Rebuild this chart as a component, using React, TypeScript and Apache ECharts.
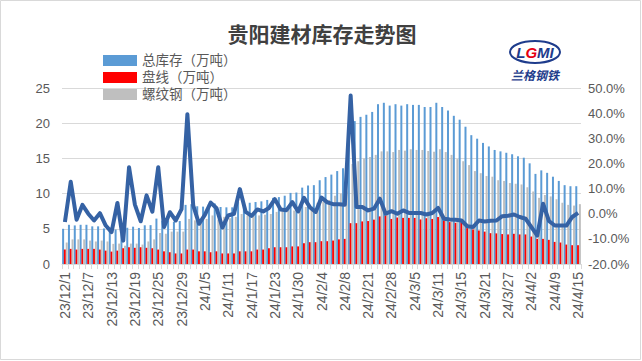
import React, { useEffect, useRef } from "react";
import * as echarts from "echarts";

const dates = [
  "23/12/1", "23/12/4", "23/12/5", "23/12/6", "23/12/7", "23/12/8", "23/12/11", "23/12/12", "23/12/13", "23/12/14",
  "23/12/15", "23/12/18", "23/12/19", "23/12/20", "23/12/21", "23/12/22", "23/12/25", "23/12/26", "23/12/27", "23/12/28",
  "23/12/29", "24/1/2", "24/1/3", "24/1/4", "24/1/5", "24/1/8", "24/1/9", "24/1/10", "24/1/11", "24/1/12",
  "24/1/15", "24/1/16", "24/1/17", "24/1/18", "24/1/19", "24/1/22", "24/1/23", "24/1/25", "24/1/26", "24/1/29",
  "24/1/30", "24/1/31", "24/2/1", "24/2/2", "24/2/4", "24/2/5", "24/2/6", "24/2/7", "24/2/8", "24/2/18",
  "24/2/19", "24/2/20", "24/2/21", "24/2/22", "24/2/23", "24/2/26", "24/2/28", "24/2/29", "24/3/1", "24/3/4",
  "24/3/5", "24/3/6", "24/3/7", "24/3/8", "24/3/11", "24/3/12", "24/3/13", "24/3/14", "24/3/15", "24/3/18",
  "24/3/19", "24/3/20", "24/3/21", "24/3/22", "24/3/25", "24/3/26", "24/3/27", "24/3/28", "24/3/29", "24/4/1",
  "24/4/2", "24/4/3", "24/4/7", "24/4/8", "24/4/9", "24/4/10", "24/4/11", "24/4/12", "24/4/15",
];

// 总库存（万吨）
const totalStock = [
  5.0, 5.57, 5.48, 5.57, 5.57, 5.35, 5.35, 5.05, 4.7, 4.9,
  4.35, 5.14, 5.3, 5.12, 5.5, 5.52, 6.45, 6.15, 6.2, 6.0,
  6.1, 8.4, 8.5, 8.2, 8.15, 8.5, 8.6, 8.1, 8.05, 8.05,
  8.8, 8.8, 8.7, 8.8, 8.9, 9.1, 9.4, 9.5, 9.7, 10.1,
  10.15, 10.85, 11.15, 11.2, 11.9, 12.35, 12.7, 13.2, 13.6, 20.0,
  20.3, 20.9, 21.2, 21.6, 22.7, 22.9, 22.5, 22.7, 22.5, 22.7,
  22.6, 22.6, 22.3, 22.3, 22.9, 22.3, 21.8, 21.05, 20.5, 19.5,
  18.3, 17.8, 17.2, 16.7, 16.2, 16.0, 15.8, 15.6, 15.3, 15.1,
  14.3, 12.8, 13.3, 12.95, 12.4, 11.8, 11.2, 11.05, 11.05,
];

// 盘线（万吨）
const wireRod = [
  2.05, 2.15, 2.05, 2.15, 2.15, 2.15, 2.05, 1.9, 1.76, 1.9,
  2.24, 2.38, 2.3, 2.38, 2.3, 2.24, 2.05, 1.8, 1.67, 1.5,
  1.5, 2.05, 2.05, 1.8, 1.8, 1.67, 1.8, 1.5, 1.5, 1.5,
  1.8, 1.8, 1.8, 2.05, 2.05, 2.24, 2.38, 2.38, 2.38, 2.5,
  2.5, 2.95, 3.1, 3.1, 3.24, 3.24, 3.33, 3.5, 3.57, 5.8,
  5.8, 6.05, 6.1, 6.3, 6.76, 6.9, 6.4, 6.6, 6.55, 6.55,
  6.55, 6.33, 6.5, 6.4, 6.67, 6.2, 5.95, 5.86, 5.95, 5.1,
  4.9, 4.76, 4.6, 4.38, 4.35, 4.25, 4.2, 4.29, 4.2, 4.2,
  3.9, 3.57, 3.57, 3.43, 3.14, 3.05, 2.76, 2.67, 2.67,
];

// 螺纹钢（万吨）
const rebar = [
  3.05, 3.5, 3.5, 3.5, 3.33, 3.2, 3.33, 3.2, 2.86, 2.9,
  2.6, 2.9, 2.9, 2.76, 3.2, 3.5, 4.4, 4.3, 4.6, 4.6,
  4.6, 6.4, 6.2, 5.95, 6.4, 6.9, 6.3, 6.7, 6.5, 6.7,
  7.1, 6.9, 6.9, 6.9, 7.0, 7.1, 7.4, 7.5, 7.6, 7.6,
  7.9, 8.1, 8.2, 8.7, 8.8, 9.1, 9.7, 10.0, 10.3, 14.2,
  14.6, 15.0, 15.2, 15.5, 16.0, 16.0, 15.9, 16.2, 16.1, 16.3,
  16.2, 16.2, 16.05, 15.95, 16.3, 15.9, 15.5, 14.9, 14.6, 14.05,
  13.2, 12.9, 12.5, 12.4, 11.9, 11.8, 11.5, 11.4, 11.3, 10.9,
  10.3, 9.4, 9.8, 9.6, 9.2, 8.7, 8.4, 8.3, 8.5,
];

// 总库存环比（%）
const changePct = [
  -3.3, 12.7, -2.4, 3.5, 0, -2.7, 0.2, -4.7, -7.3, 4.3,
  -10.7, 18.5, 3.6, -3.0, 7.3, 0.8, 18.5, -5.3, 0.6, -2.7,
  1.8, 39.6, 3.3, -4.0, -0.5, 4.4, 2.2, -5.5, -0.7, 0,
  9.8, 0.7, -0.9, 1.7, 0.9, 2.3, 5.8, 1.7, 1.4, 4.6,
  0.9, 6.3, 2.6, 0.7, 6.4, 4.5, 3.8, 3.8, 3.6, 47.0,
  2.7, 2.7, 1.3, 2.0, 6.0, 0, 1.0, 0, 1.3, 0.3,
  0.3, 0.3, -0.3, 0.3, 2.3, -2.0, -2.3, -2.4, -2.7, -5.0,
  -5.3, -2.7, -3.1, -2.8, -2.7, -1.0, -0.8, -0.3, -1.3, -2.0,
  -5.3, -8.7, 4.0, -2.9, -4.7, -4.7, -4.7, -1.3, 0.3,
];

const leftTicks = { min: 0, max: 25, interval: 5 };
const rightTicks = { min: -20, max: 50, interval: 10 };

const CJK = '"Noto Sans CJK SC", sans-serif';
const LEGEND_FONT = '"Liberation Sans", "Noto Sans CJK SC", sans-serif';
const LATIN = '"Liberation Sans", Arial, sans-serif';

export default function App() {
  const ref = useRef<HTMLDivElement>(null);
  useEffect(() => {
    if (!ref.current) return;
    const chart = echarts.init(ref.current, undefined, { renderer: "svg" });
    chart.setOption({
      animation: false,
      backgroundColor: "#ffffff",
      legend: {
        orient: "vertical",
        left: 103,
        top: 52,
        padding: 0,
        itemWidth: 34,
        itemHeight: 11,
        itemGap: 0,
        icon: "rect",
        data: ["总库存（万吨）", "盘线（万吨）", "螺纹钢（万吨）"],
        textStyle: { fontSize: 13.5, lineHeight: 17, color: "#595959", fontFamily: LEGEND_FONT },
      },
      grid: { left: 62, right: 61, top: 88, bottom: 97, containLabel: false },
      xAxis: {
        type: "category",
        data: dates,
        boundaryGap: true,
        axisLine: { show: true, lineStyle: { color: "#d9d9d9", width: 1 } },
        axisTick: { show: true, interval: 0, length: 5, lineStyle: { color: "#d9d9d9" } },
        axisLabel: {
          interval: 3,
          rotate: 90,
          margin: 8,
          fontSize: 14,
          color: "#595959",
          fontFamily: LATIN,
        },
      },
      yAxis: [
        {
          type: "value",
          min: leftTicks.min,
          max: leftTicks.max,
          interval: leftTicks.interval,
          axisLine: { show: false },
          axisTick: { show: false },
          axisLabel: { fontSize: 13, color: "#595959", margin: 12, fontFamily: LATIN },
          splitLine: { show: true, lineStyle: { color: "#d9d9d9", width: 1 } },
        },
        {
          type: "value",
          min: rightTicks.min,
          max: rightTicks.max,
          interval: rightTicks.interval,
          axisLine: { show: false },
          axisTick: { show: false },
          axisLabel: {
            fontSize: 13,
            color: "#595959",
            margin: 7,
            fontFamily: LATIN,
            formatter: (v: number) => v.toFixed(1) + "%",
          },
          splitLine: { show: false },
        },
      ],
      series: [
        {
          name: "总库存（万吨）",
          type: "bar",
          data: totalStock,
          barWidth: 2,
          barGap: "-10%",
          itemStyle: { color: "#5B9BD5" },
        },
        {
          name: "盘线（万吨）",
          type: "bar",
          data: wireRod,
          barWidth: 2,
          barGap: "-10%",
          itemStyle: { color: "#FF0000" },
        },
        {
          name: "螺纹钢（万吨）",
          type: "bar",
          data: rebar,
          barWidth: 2,
          barGap: "-10%",
          itemStyle: { color: "#BFBFBF" },
        },
        {
          name: "环比",
          type: "line",
          yAxisIndex: 1,
          data: changePct,
          showSymbol: false,
          symbol: "none",
          z: 10,
          lineStyle: { color: "#3562A4", width: 4, join: "round" },
        },
      ],
      graphic: [
        {
          type: "rect",
          shape: { x: 0.5, y: 0.5, width: 640, height: 359 },
          style: { fill: "none", stroke: "#d9d9d9", lineWidth: 1 },
          silent: true,
        },
        {
          type: "text",
          x: 322,
          y: 33,
          style: {
            text: "贵阳建材库存走势图",
            fontSize: 21,
            fontWeight: "bold",
            fontFamily: CJK,
            fill: "#404040",
            textAlign: "center",
            textVerticalAlign: "middle",
          },
        },
        {
          type: "ellipse",
          shape: { cx: 535, cy: 52, rx: 25, ry: 11 },
          style: { fill: "none", stroke: "#1E3C8C", lineWidth: 2 },
        },
        {
          type: "text",
          x: 535,
          y: 52,
          style: {
            text: "{a|L}{b|G}{a|MI}",
            textAlign: "center",
            textVerticalAlign: "middle",
            rich: {
              a: { fontSize: 15, fontWeight: "bold", fontStyle: "italic", fill: "#1E3C8C", fontFamily: LATIN },
              b: { fontSize: 15, fontWeight: "bold", fontStyle: "italic", fill: "#E60012", fontFamily: LATIN },
            },
          },
        },
        {
          type: "text",
          x: 535,
          y: 74,
          style: {
            text: "兰格钢铁",
            fontSize: 12,
            fontWeight: "bold",
            fontStyle: "italic",
            fontFamily: CJK,
            fill: "#1E3C8C",
            textAlign: "center",
            textVerticalAlign: "middle",
          },
        },
      ],
    });
    return () => chart.dispose();
  }, []);
  return (
    <div
      ref={ref}
      style={{ position: "fixed", left: 0, top: 0, width: 642, height: 361 }}
    />
  );
}
